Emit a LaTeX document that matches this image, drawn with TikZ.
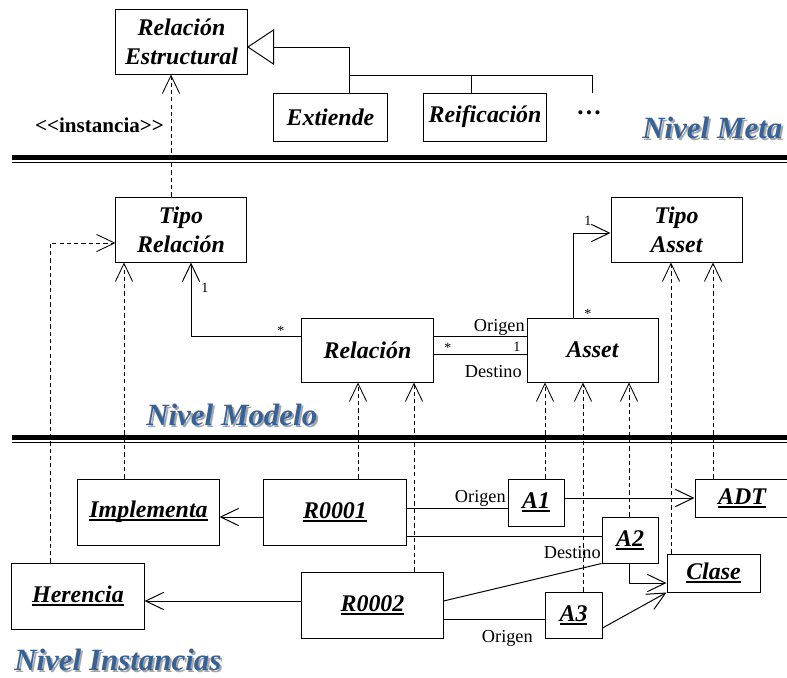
\documentclass[tikz,border=0pt]{standalone}
\usepackage{fontspec}
\setmainfont{Liberation Serif}
\usetikzlibrary{arrows.meta}
\definecolor{lvlblue}{RGB}{55,98,150}
\newcommand\objname[1]{\sbox0{#1}\rlap{\usebox0}\rule[-2.6pt]{\wd0}{1.4pt}}
\tikzset{
  cbox/.style={draw, line width=0.7pt, inner sep=0pt, align=center,
    font=\fontsize{17}{20.5}\selectfont\bfseries\itshape},
  lbl/.style={font=\fontsize{13}{15}\selectfont, inner sep=0pt},
  mult/.style={font=\fontsize{10}{12}\selectfont, inner sep=0pt},
  level/.style={font=\fontsize{22}{26}\selectfont\bfseries\itshape, text=lvlblue, inner sep=0pt, anchor=base west},
  levelsh/.style={level, text=black!35},
  link/.style={line width=0.7pt},
  nav/.style={link, -{Straight Barb[length=0.45cm,width=0.43cm]}},
  inst/.style={line width=0.6pt, dash pattern=on 3pt off 2.2pt, -{Straight Barb[length=0.45cm,width=0.43cm]}},
  gen/.style={link, -{Triangle[open,length=0.68cm,width=0.9cm]}},
  sepline/.style={line width=3.5pt},
}
\begin{document}
\begin{tikzpicture}[x=0.025cm,y=-0.025cm]
\useasboundingbox (0,0) rectangle (787,677);
% nivel meta
\node[cbox, minimum width=3.275cm, minimum height=1.6cm] (re) at (181.5,42) {Relación\\Estructural};
\node[cbox, minimum width=2.825cm, minimum height=1.2cm] (ext) at (330.5,117) {Extiende};
\node[cbox, minimum width=3.05cm, minimum height=1.2cm] (reif) at (485,117) {Reificación};
\node[font=\fontsize{18}{20}\selectfont\bfseries, inner sep=0pt] (dots) at (589,113) {…};
\coordinate (more) at (592,93);
\coordinate (gtip) at (247,47);
\draw[gen] (ext.north -| 349,0) |- (gtip);
\draw[link] (349,75) -| (reif.north -| 471,0);
\draw[link] (471,75) -| (more);
\node[font=\fontsize{15}{18}\selectfont\bfseries, inner sep=0pt] (instlbl) at (99.5,125) {<{}<instancia>{}>};
\node[levelsh] (metash) at (644,140) {Nivel Meta};
\node[level] (meta) at (642,138) {Nivel Meta};
%
\draw[sepline] (12,157.5) -- (787,157.5);
\draw[line width=0.7pt] (12,162.5) -- (787,162.5);
% nivel modelo
\node[cbox, minimum width=3.25cm, minimum height=1.625cm] (trel) at (181,229.5) {Tipo\\Relación};
\node[cbox, minimum width=3.275cm, minimum height=1.6cm] (rel) at (367.5,350) {Relación};
\node[cbox, minimum width=3.275cm, minimum height=1.6cm] (asset) at (592.5,350) {Asset};
\node[cbox, minimum width=3.275cm, minimum height=1.625cm] (tasset) at (676.5,229.5) {Tipo\\Asset};
\draw[inst] (trel.north -| 171,0) -- (re.south -| 171,0);
\draw[nav] (rel.west |- 0,336) -| (trel.south -| 191,0);
\node[mult] (m1) at (205,288) {1};
\node[mult] (m2) at (281,331) {*};
\draw[link] (rel.east |- 0,336) -- (asset.west |- 0,336);
\draw[link] (rel.east |- 0,354) -- (asset.west |- 0,354);
\node[lbl, anchor=base east] (orig0) at (525,331) {Origen};
\node[lbl, anchor=base east] (dest0) at (522,377) {Destino};
\node[mult] (m3) at (448,348) {*};
\node[mult] (m4) at (517,347) {1};
\draw[nav] (asset.north -| 573,0) |- (tasset.west |- 0,233);
\node[mult] (m5) at (588,221) {1};
\node[mult] (m6) at (588,314) {*};
\node[levelsh] (modsh) at (148,427) {Nivel Modelo};
\node[level] (mod) at (146,425) {Nivel Modelo};
%
\draw[sepline] (12,437.5) -- (787,437.5);
\draw[line width=0.7pt] (12,442.5) -- (787,442.5);
% nivel instancias
\node[cbox, minimum width=3.525cm, minimum height=1.65cm] (impl) at (148.5,512) {\objname{Implementa}};
\node[cbox, minimum width=3.55cm, minimum height=1.65cm] (r1) at (335,512) {\objname{R0001}};
\node[cbox, minimum width=3.3cm, minimum height=1.65cm] (her) at (78,596) {\objname{Herencia}};
\node[cbox, minimum width=3.525cm, minimum height=1.65cm] (r2) at (372.5,605) {\objname{R0002}};
\node[cbox, minimum width=1.4cm, minimum height=1.175cm] (a1) at (536,502.5) {\objname{A1}};
\node[cbox, minimum width=1.4cm, minimum height=1.15cm] (a2) at (630,540) {\objname{A2}};
\node[cbox, minimum width=1.425cm, minimum height=1.15cm] (a3) at (573.5,615) {\objname{A3}};
\node[cbox, minimum width=2.325cm, minimum height=0.95cm] (cls) at (713.5,573) {\objname{Clase}};
\node[cbox, minimum width=2.35cm, minimum height=0.95cm] (adt) at (742,498) {\objname{ADT}};
%
\draw[inst] (her.north -| 50,0) |- (trel.west |- 0,243);
\draw[inst] (impl.north -| 124,0) -- (trel.south -| 124,0);
\draw[inst] (r1.north -| 358,0) -- (rel.south -| 358,0);
\draw[inst] (r2.north -| 414,0) -- (rel.south -| 414,0);
\draw[inst] (a1.north -| 545,0) -- (asset.south -| 545,0);
\draw[inst] (a3.north -| 583,0) -- (asset.south -| 583,0);
\draw[inst] (a2.north -| 629,0) -- (asset.south -| 629,0);
\draw[inst] (cls.north -| 671,0) -- (tasset.south -| 671,0);
\draw[inst] (adt.north -| 713,0) -- (tasset.south -| 713,0);
%
\draw[nav] (r1.west |- 0,517) -- (impl.east |- 0,517);
\draw[nav] (r2.west |- 0,601) -- (her.east |- 0,601);
\draw[link] (r1.east |- 0,508) -- (a1.west |- 0,508);
\node[lbl, anchor=base east] (orig1) at (506,502) {Origen};
\draw[link] (r1.east |- 0,536) -- (a2.west |- 0,536);
\node[lbl, anchor=base east] (dest1) at (601,558) {Destino};
\draw[link] (r2.east |- 0,601) -- (a2.south west);
\draw[link] (r2.east |- 0,619) -- (a3.west |- 0,619);
\node[lbl, anchor=base east] (orig2) at (533,642) {Origen};
\draw[nav] (a1.east |- 0,498) -- (adt.west |- 0,498);
\draw[nav] (a2.south -| 629,0) |- (cls.west |- 0,583);
\draw[nav] (a3.east |- 0,628) -- (cls.south west);
\node[levelsh] (instsh) at (16,672) {Nivel Instancias};
\node[level] (insts) at (14,670) {Nivel Instancias};
\end{tikzpicture}
\end{document}
